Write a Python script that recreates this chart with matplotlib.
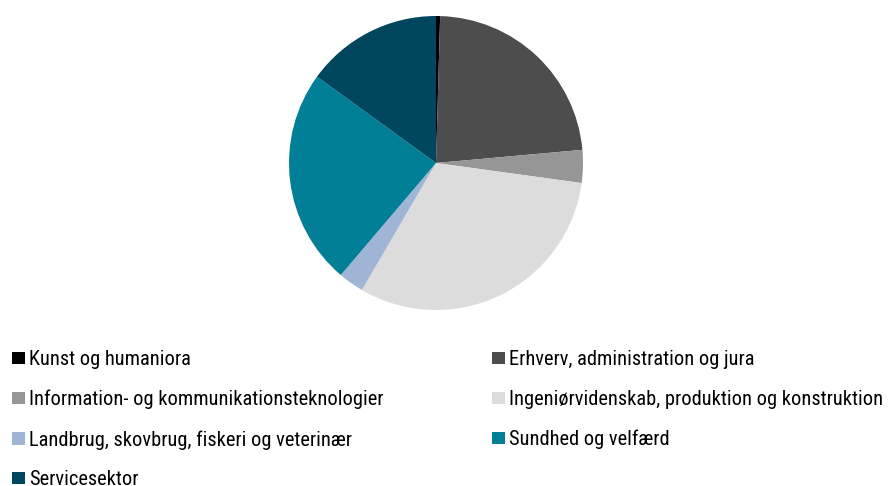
import matplotlib
matplotlib.use("Agg")
import matplotlib.pyplot as plt

categories = [
    "Kunst og humaniora",
    "Erhverv, administration og jura",
    "Information- og kommunikationsteknologier",
    "Ingeniørvidenskab, produktion og konstruktion",
    "Landbrug, skovbrug, fiskeri og veterinær",
    "Sundhed og velfærd",
    "Servicesektor",
]
values = [0.45, 23.1, 3.6, 31.2, 2.8, 23.75, 15.0]
colors = ["#000000", "#4d4d4d", "#969696", "#dcdcdc", "#a0b4d6", "#007f97", "#00465e"]

plt.rcParams["font.family"] = ["Roboto Condensed", "DejaVu Sans"]

W, H = 889, 486
fig = plt.figure(figsize=(W / 100, H / 100), dpi=100)
cx, cy, r = 436, 163, 147
ax = fig.add_axes([(cx - r) / W, (H - cy - r) / H, 2 * r / W, 2 * r / H])
wedges, _ = ax.pie(values, colors=colors, startangle=90, counterclock=False,
                   radius=1, wedgeprops=dict(linewidth=0))
ax.set_xlim(-1, 1)
ax.set_ylim(-1, 1)
ax.set_aspect("equal")
ax.axis("off")

common = dict(frameon=False, fontsize=14.7, handlelength=0.62, handleheight=0.54,
              handletextpad=0.22, labelspacing=1.02, borderpad=0, borderaxespad=0,
              loc="upper left")
left_idx = [0, 2, 4, 6]
right_idx = [1, 3, 5]
leg1 = fig.legend([wedges[i] for i in left_idx], [categories[i] for i in left_idx],
                  bbox_to_anchor=(12 / W, 1 - 350 / H), **common)
leg2 = fig.legend([wedges[i] for i in right_idx], [categories[i] for i in right_idx],
                  bbox_to_anchor=(492 / W, 1 - 350 / H), **common)

fig.savefig("out.png", dpi=100)
